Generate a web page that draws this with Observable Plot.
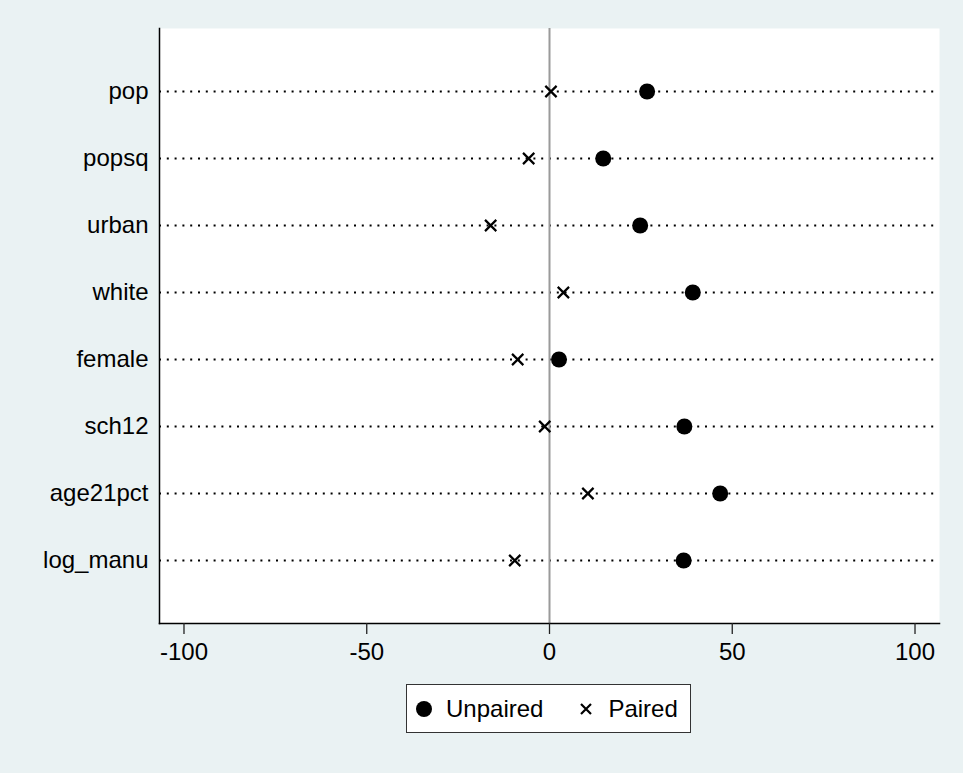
<!DOCTYPE html>
<html>
<head>
<meta charset="utf-8">
<script src="https://cdn.jsdelivr.net/npm/d3@7"></script>
<script src="https://cdn.jsdelivr.net/npm/@observablehq/plot@0.6"></script>
<style>
  html, body { margin: 0; padding: 0; background: #EAF2F3; }
  #wrap { position: relative; width: 963px; height: 773px; background: #EAF2F3; font-family: "Liberation Sans", Arial, Helvetica, sans-serif; }
  #legend { position: absolute; left: 406px; top: 684px; width: 283px; height: 47px; background: #fff; border: 1.5px solid #333; display: flex; align-items: center; font-size: 24px; color: #000; }
  #legend .item { display: flex; align-items: center; }
  #legend svg { display: block; }
</style>
</head>
<body>
<div id="wrap">
  <div id="chart"></div>
  <div id="legend"></div>
</div>
<script>
const variables = ["pop", "popsq", "urban", "white", "female", "sch12", "age21pct", "log_manu"];
const unpaired = [26.7, 14.7, 24.8, 39.2, 2.6, 36.9, 46.7, 36.7];
const paired = [0.4, -5.7, -16.1, 3.8, -8.7, -1.3, 10.5, -9.5];
const xTicks = [-100, -50, 0, 50, 100];
const seriesNames = ["Unpaired", "Paired"];

const rows = variables.map((v, i) => ({variable: v, unpaired: unpaired[i], paired: paired[i]}));
const font = "'Liberation Sans', Arial, Helvetica, sans-serif";

const chart = Plot.plot({
  width: 963,
  height: 670,
  marginLeft: 159,
  marginRight: 24,
  marginTop: 28,
  marginBottom: 47,
  style: {fontFamily: font, fontSize: "24px", background: "transparent", color: "#000"},
  x: {domain: [-106.7, 106.7], label: null},
  y: {type: "point", domain: variables, padding: 0.9, align: 0.5, label: null},
  marks: [
    Plot.frame({fill: "white", stroke: "none"}),
    Plot.ruleY(variables, {stroke: "#000", strokeWidth: 2, strokeDasharray: "2,5.8", strokeLinecap: "butt"}),
    Plot.ruleX([0], {stroke: "#9a9a9a", strokeWidth: 2}),
    Plot.frame({anchor: "left", stroke: "#000", strokeWidth: 1.5}),
    Plot.frame({anchor: "bottom", stroke: "#000", strokeWidth: 1.5}),
    Plot.axisX({ticks: xTicks, tickSize: 11, tickPadding: 8, tickFormat: d => String(d), fontSize: 24, stroke: "#222", strokeWidth: 1.3, label: null}),
    Plot.axisY({tickSize: 0, tickPadding: 11, fontSize: 24, label: null}),
    Plot.dot(rows, {x: "paired", y: "variable", symbol: "times", r: 5.2, stroke: "#000", strokeWidth: 2.2}),
    Plot.dot(rows, {x: "unpaired", y: "variable", r: 8, fill: "#000", stroke: "none"})
  ]
});
document.getElementById("chart").appendChild(chart);

// Legend
const legend = document.getElementById("legend");
legend.innerHTML = `
  <div class="item" style="margin-left:8px">
    <svg width="18" height="18"><circle cx="9" cy="9" r="8" fill="#000"/></svg>
    <span style="margin-left:13px">${seriesNames[0]}</span>
  </div>
  <div class="item" style="margin-left:36px">
    <svg width="14" height="14"><path d="M2,2L12,12M12,2L2,12" stroke="#000" stroke-width="2.2"/></svg>
    <span style="margin-left:15px">${seriesNames[1]}</span>
  </div>`;
</script>
</body>
</html>
